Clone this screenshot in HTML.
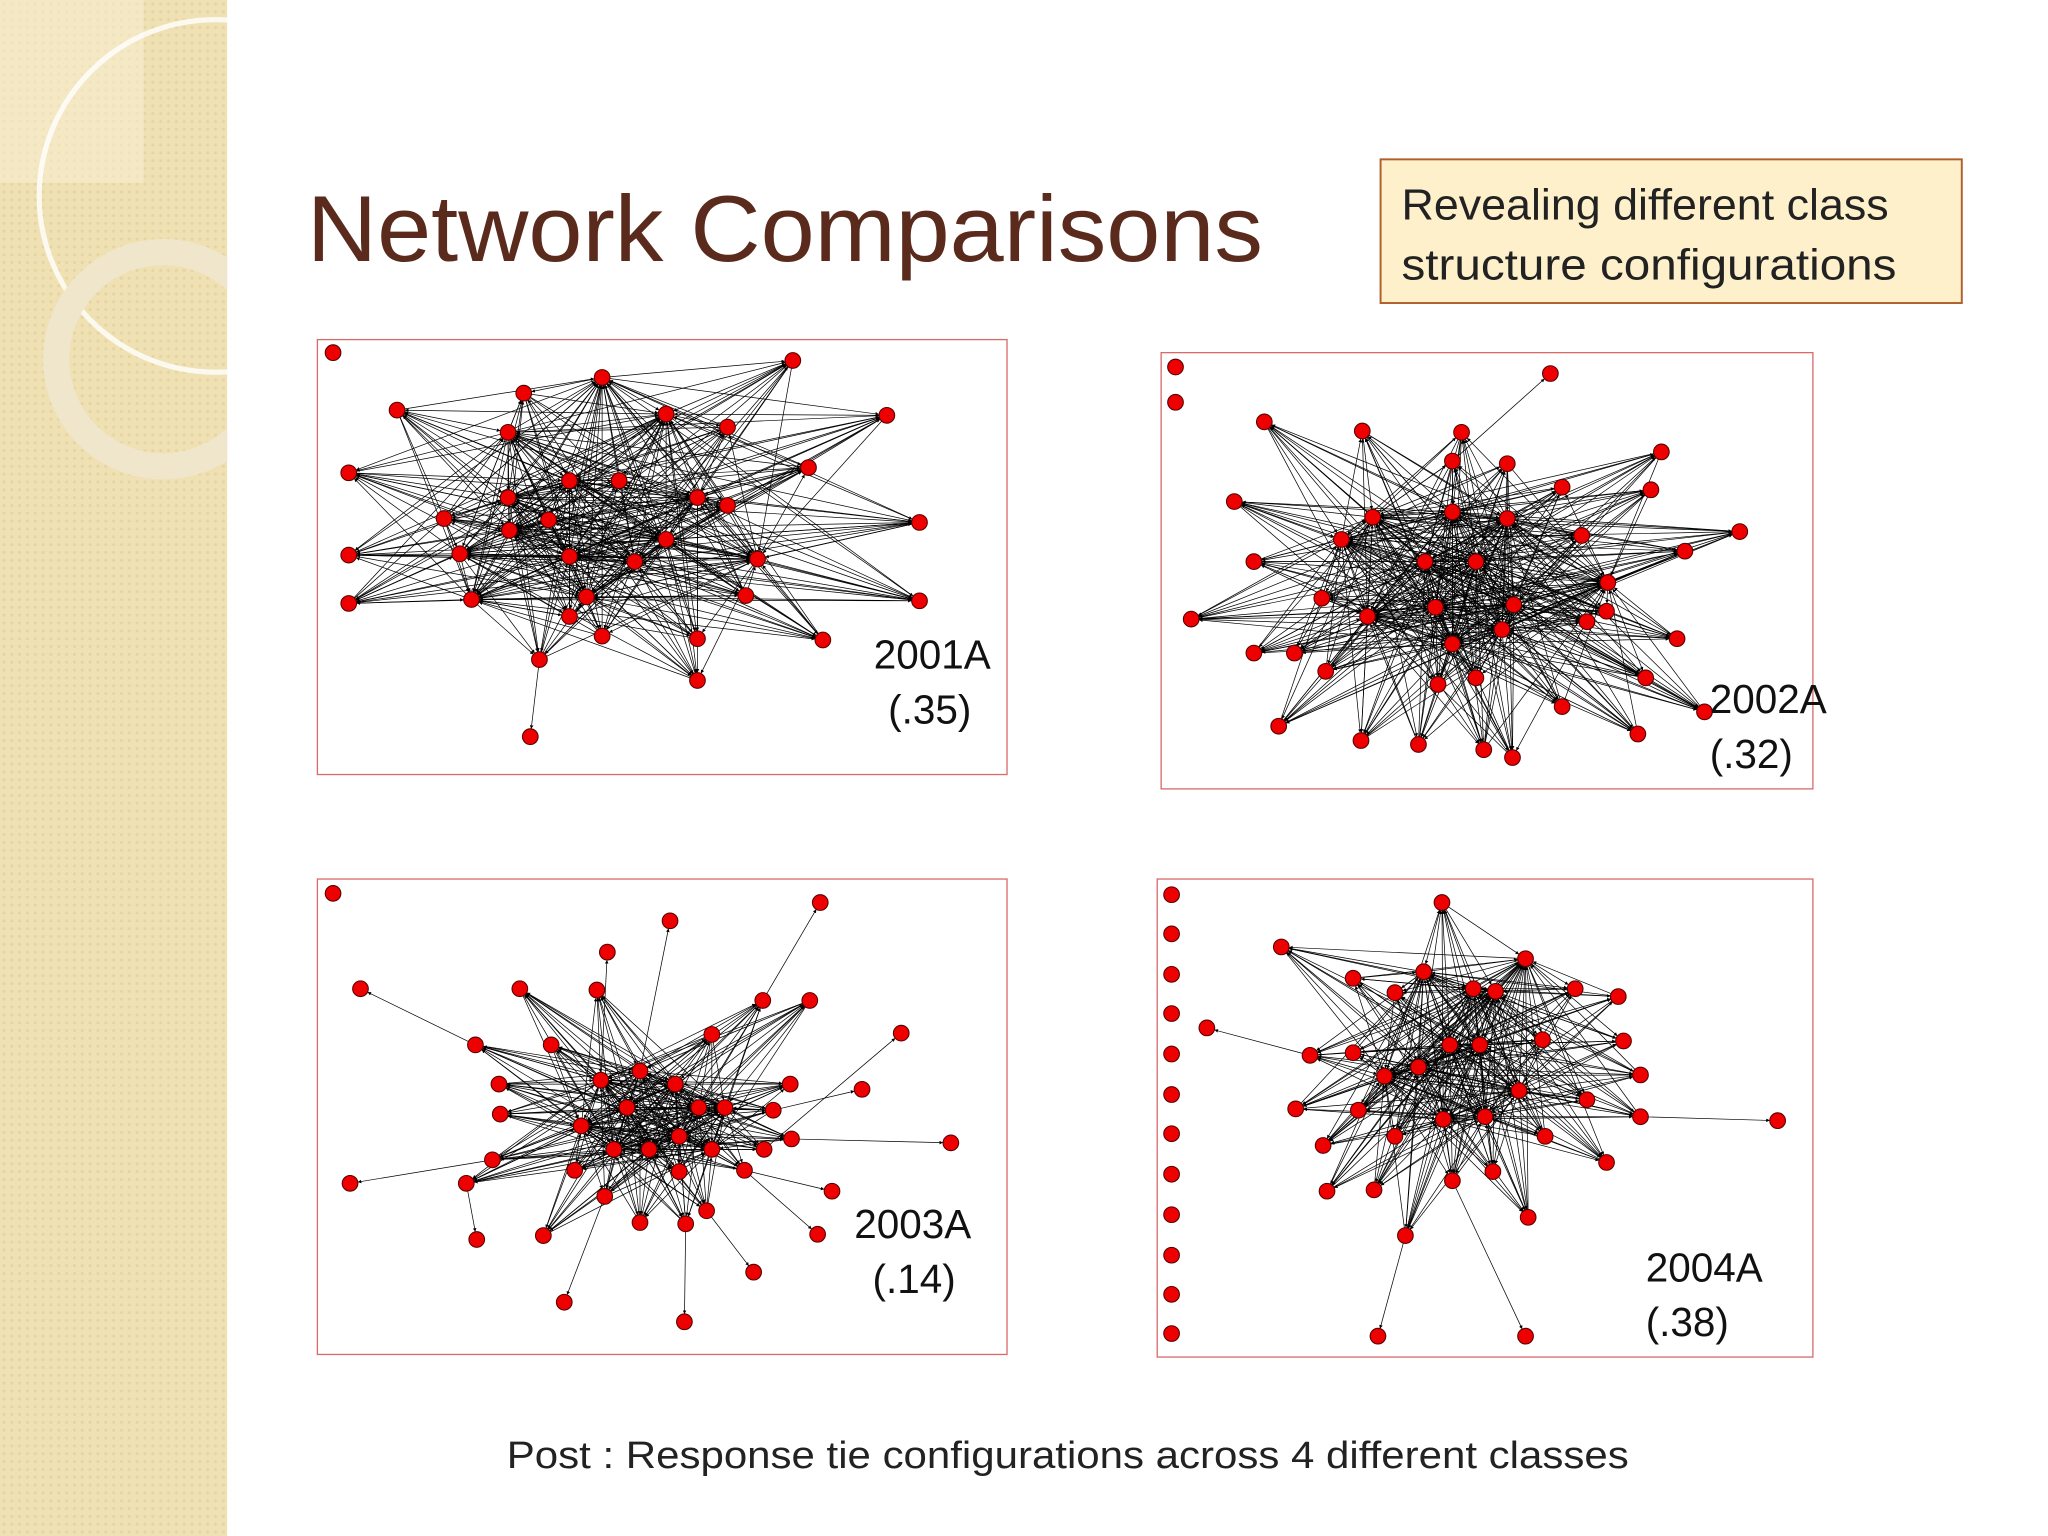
<!DOCTYPE html>
<html><head><meta charset="utf-8"><style>
html,body{margin:0;padding:0;background:#fff;}
svg{display:block;}
text{font-family:"Liberation Sans",sans-serif;}
</style></head><body>
<svg id="slide" width="2048" height="1536" viewBox="0 0 1568 1176" xmlns="http://www.w3.org/2000/svg">
<defs>
<pattern id="dots" width="6" height="6" patternUnits="userSpaceOnUse"><rect width="6" height="6" fill="#efe1b3"/><circle cx="3" cy="3" r="1.2" fill="#e6d59f"/></pattern>
<marker id="arr" viewBox="0 0 10 10" refX="10" refY="5" markerWidth="5" markerHeight="5" orient="auto"><path d="M0,0L10,5L0,10z" fill="#000"/></marker>
<clipPath id="stripclip"><rect x="0" y="0" width="174" height="1176"/></clipPath>
</defs>
<rect x="0" y="0" width="1568" height="1176" fill="#fff"/>
<g clip-path="url(#stripclip)">
<rect x="0" y="0" width="174" height="1176" fill="url(#dots)"/>
<rect x="0" y="0" width="110" height="140" fill="#f6edd0" opacity="0.6"/>
<circle cx="165" cy="150" r="135" fill="none" stroke="#fff" stroke-width="4" opacity="0.8"/>
<circle cx="125" cy="275" r="82" fill="none" stroke="#f0e6cc" stroke-width="20"/>
</g>
<text x="235" y="200" font-size="72" fill="#5a2a1c" textLength="732" lengthAdjust="spacingAndGlyphs">Network Comparisons</text>
<g>
<rect x="1057" y="122" width="445" height="110" fill="#fdf0cb" stroke="#b0602a" stroke-width="1.5"/>
<text x="1073" y="168" font-size="33" fill="#222" textLength="373" lengthAdjust="spacingAndGlyphs">Revealing different class</text>
<text x="1073" y="214" font-size="33" fill="#222" textLength="379" lengthAdjust="spacingAndGlyphs">structure configurations</text>
</g>
<g id="panels"></g>
<text x="388" y="1124" font-size="29" fill="#222" textLength="859" lengthAdjust="spacingAndGlyphs">Post : Response tie configurations across 4 different classes</text>
</svg>
<script>
const p1Nodes=[[255,270],[607,276],[461,289],[401,301],[304,314],[510,317],[557,327],[679,318],[389,331],[267,362],[619,358],[436,368],[474,368],[389,381],[534,381],[557,387],[340,397],[704,400],[390,406],[420,398],[510,413],[267,425],[352,424],[436,426],[486,430],[580,428],[267,462],[361,459],[449,457],[436,472],[461,487],[571,456],[704,460],[630,490],[534,489],[413,505],[534,521],[406,564]];
const p1Hubs=[8,11,13,14,18,20,22,23,24,25,27,28,2,5];
const p1Leaves=[[37,35]];
const p1Iso=[0];
const p2Nodes=[[900,281],[900,308],[1187,286],[968,323],[1043,330],[1119,331],[1272,346],[1112,353],[1154,355],[945,384],[1051,396],[1196,373],[1264,375],[1112,392],[1154,397],[1332,407],[960,430],[1027,413],[1211,410],[1290,422],[1091,430],[1130,430],[1231,446],[1012,458],[1099,465],[1159,463],[1215,476],[1230,468],[912,474],[1047,472],[1112,493],[1150,482],[1284,489],[960,500],[991,500],[1015,514],[1101,524],[1130,519],[1196,541],[1260,519],[1305,545],[979,556],[1042,567],[1086,570],[1136,574],[1158,580],[1254,562]];
const p2Hubs=[10,13,14,20,21,24,25,30,31,17,22,29];
const p2Leaves=[[2,7]];
const p2Iso=[0,1];
const p3Nodes=[[255,684],[628,691],[513,705],[465,729],[276,757],[398,757],[457,758],[584,766],[620,766],[690,791],[364,800],[422,800],[545,792],[490,820],[517,830],[460,827],[382,830],[605,830],[660,834],[445,862],[480,848],[535,848],[555,848],[383,853],[592,850],[470,880],[497,880],[520,870],[545,880],[585,880],[606,872],[728,875],[377,888],[440,896],[520,897],[570,896],[268,906],[357,906],[463,916],[490,936],[541,927],[525,937],[637,912],[365,949],[416,946],[626,945],[577,974],[432,997],[524,1012]];
const p3Hubs=[13,14,15,20,21,25,26,27,28,19,22];
const p3Leaves=[[1,7],[2,13],[4,10],[31,30],[36,32],[47,38],[48,41],[46,40],[9,29],[3,15],[18,24],[42,35],[45,35],[43,37]];
const p3Iso=[0];
const p4Nodes=[[1104,691],[981,725],[1036,749],[1090,744],[1168,734],[1206,757],[1239,763],[1068,760],[1128,757],[1145,759],[924,787],[1003,808],[1036,806],[1110,800],[1133,800],[1181,796],[1086,817],[1243,797],[1256,823],[1060,824],[1163,835],[1040,850],[992,849],[1137,855],[1105,857],[1215,842],[1256,855],[1361,858],[1068,870],[1013,877],[1183,870],[1230,890],[1016,912],[1052,911],[1112,904],[1143,897],[1170,932],[1076,946],[1055,1023],[1168,1023],[897,685],[897,715],[897,746],[897,776],[897,807],[897,838],[897,868],[897,899],[897,930],[897,961],[897,991],[897,1021]];
const p4Hubs=[3,8,9,13,14,16,20,23,24,19,4];
const p4Leaves=[[27,26],[38,37],[39,34],[10,11]];
const p4Iso=[40,41,42,43,44,45,46,47,48,49,50,51];
const panelNames=['network-2001a','network-2002a','network-2003a','network-2004a'];
const panelLabels=[['2001A','(.35)'],['2002A','(.32)'],['2003A','(.14)'],['2004A','(.38)']];

const NS='http://www.w3.org/2000/svg';
const root=document.getElementById('panels');
function mk(tag,attrs,parent){const e=document.createElementNS(NS,tag);for(const k in attrs)e.setAttribute(k,attrs[k]);parent.appendChild(e);return e;}
const frames=[[243,260,528,333],[889,270,499,334],[243,673,528,364],[886,673,502,366]];
const labelPos=[[669,512,680,554],[1309,546,1309,588],[654,948,668,990],[1260,981,1260,1023]];
const sets=[[p1Nodes,p1Hubs,p1Leaves,p1Iso],[p2Nodes,p2Hubs,p2Leaves,p2Iso],[p3Nodes,p3Hubs,p3Leaves,p3Iso],[p4Nodes,p4Hubs,p4Leaves,p4Iso]];
function edge(g,a,b){
  const dx=b[0]-a[0],dy=b[1]-a[1],d=Math.hypot(dx,dy)||1,r=6;
  const l=mk('line',{x1:a[0],y1:a[1],x2:b[0]-dx/d*r,y2:b[1]-dy/d*r,stroke:'#000','stroke-width':0.55,'marker-end':'url(#arr)'},g);
  
  
}
sets.forEach((s,pi)=>{
  const [nodes,hubs,leaves,iso]=s;
  const g=mk('g',{},root);
  
  
  const f=frames[pi];
  const fr=mk('rect',{x:f[0],y:f[1],width:f[2],height:f[3],fill:'#fff',stroke:'#d96a6a','stroke-width':1},g);
  
  
  const eg=mk('g',{},g);
  const leafSet=new Set(leaves.map(l=>l[0])),isoSet=new Set(iso),hubSet=new Set(hubs);
  nodes.forEach((n,i)=>{
    if(leafSet.has(i)||isoSet.has(i)||hubSet.has(i))return;
    hubs.forEach((h,k)=>{ if((i+k)%2===0) edge(eg,n,nodes[h]); else edge(eg,nodes[h],n); });
  });
  hubs.forEach((h,a)=>hubs.forEach((h2,b)=>{if(b>a)edge(eg,nodes[h],nodes[h2]);}));
  leaves.forEach(l=>edge(eg,nodes[l[1]],nodes[l[0]]));
  nodes.forEach((n)=>{
    const c=mk('circle',{cx:n[0],cy:n[1],r:6,fill:'#ee0000',stroke:'#500','stroke-width':0.8},g);
    
    
  });
  const lp=labelPos[pi];
  const t1=mk('text',{x:lp[0],y:lp[1],'font-size':31,fill:'#111'},g);t1.textContent=panelLabels[pi][0];
  
  
  const t2=mk('text',{x:lp[2],y:lp[3],'font-size':31,fill:'#111'},g);t2.textContent=panelLabels[pi][1];
  
  
});
</script>
</body></html>
